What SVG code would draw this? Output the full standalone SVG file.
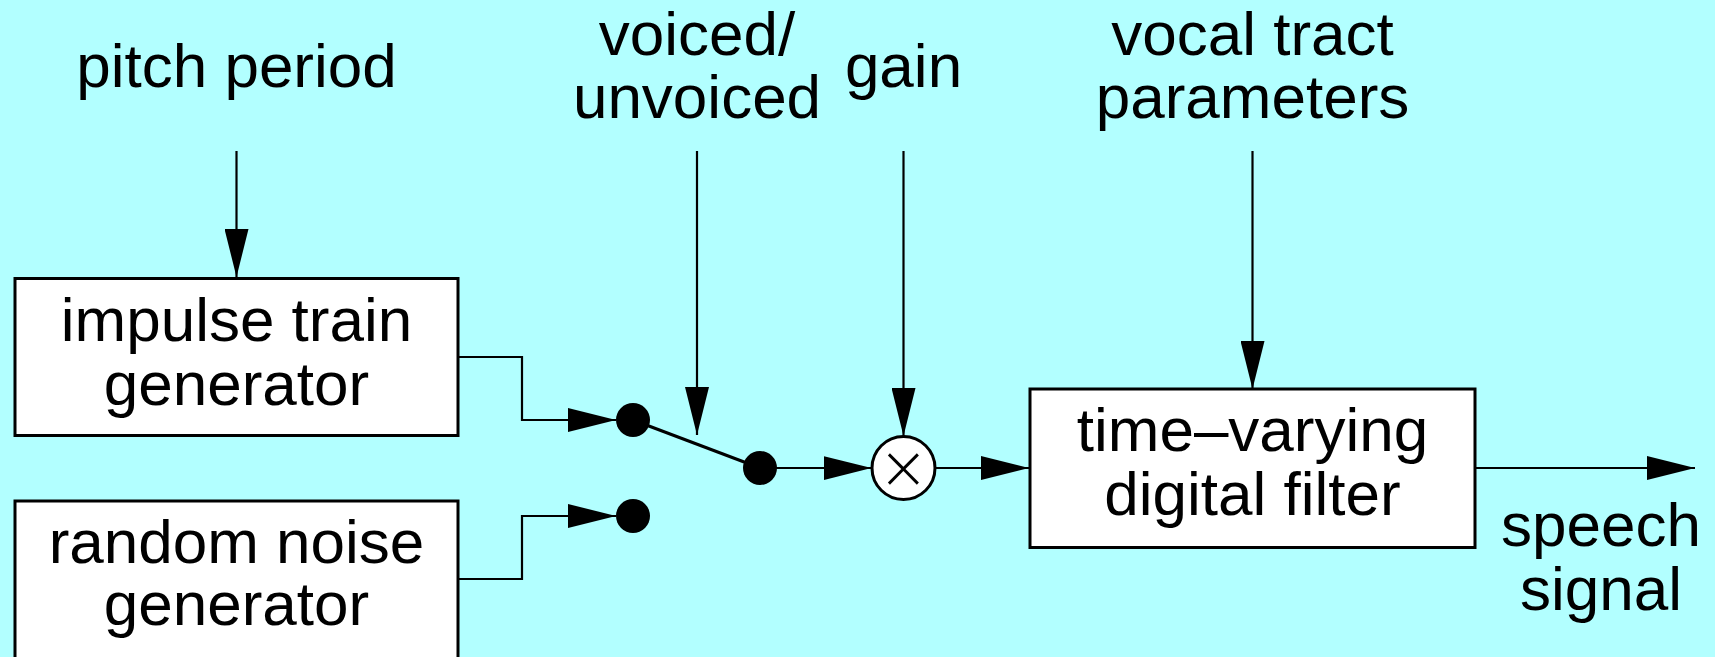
<svg xmlns="http://www.w3.org/2000/svg" width="1715" height="657" viewBox="0 0 1715 657">
<style>
.bg{fill:#b2ffff}
.box{fill:#ffffff;stroke:#000;stroke-width:3}
.t{font-family:"Liberation Sans",Arial,Helvetica,sans-serif;font-size:62px;fill:#000;text-anchor:middle}
.c{fill:none;stroke:#000;stroke-width:2.2}
.dot{fill:#000}
</style>
<defs>
<marker id="ah" markerUnits="userSpaceOnUse" markerWidth="48" markerHeight="24" refX="48" refY="12" orient="auto" viewBox="0 0 48 24">
<path d="M0,0 L48,12 L0,24 Z" fill="#000"/>
</marker>
</defs>
<rect class="bg" x="0" y="0" width="1715" height="657"/>
<g id="labels">
<text class="t" x="236.5" y="87">pitch period</text>
<text class="t" x="697" y="55">voiced/</text>
<text class="t" x="697" y="118">unvoiced</text>
<text class="t" x="903.5" y="87">gain</text>
<text class="t" x="1252.5" y="55">vocal tract</text>
<text class="t" x="1252.5" y="118">parameters</text>
<text class="t" x="1601" y="546">speech</text>
<text class="t" x="1601" y="610">signal</text>
</g>
<g id="connectors">
<line class="c" x1="236.5" y1="151" x2="236.5" y2="277" marker-end="url(#ah)"/>
<line class="c" x1="697" y1="151" x2="697" y2="435" marker-end="url(#ah)"/>
<line class="c" x1="903.5" y1="151" x2="903.5" y2="436" marker-end="url(#ah)"/>
<line class="c" x1="1252.5" y1="151" x2="1252.5" y2="389" marker-end="url(#ah)"/>
<path class="c" d="M458,357 H522 V420 H616" marker-end="url(#ah)"/>
<path class="c" d="M458,579 H522 V516 H616" marker-end="url(#ah)"/>
<line class="c" x1="633" y1="420" x2="760" y2="468" style="stroke-width:3"/>
<line class="c" x1="760" y1="468" x2="871.5" y2="468" marker-end="url(#ah)"/>
<line class="c" x1="935" y1="468" x2="1029" y2="468" marker-end="url(#ah)"/>
<line class="c" x1="1475" y1="468" x2="1695" y2="468" marker-end="url(#ah)"/>
</g>
<g id="impulse">
<rect class="box" x="15" y="278.5" width="443" height="157"/>
<text class="t" x="236.5" y="341">impulse train</text>
<text class="t" x="236.5" y="405">generator</text>
</g>
<g id="noise">
<rect class="box" x="15" y="501" width="443" height="200"/>
<text class="t" x="236.5" y="563">random noise</text>
<text class="t" x="236.5" y="625">generator</text>
</g>
<g id="switch">
<circle class="dot" cx="633" cy="420" r="17"/>
<circle class="dot" cx="633" cy="516" r="17"/>
<circle class="dot" cx="760" cy="468" r="17"/>
</g>
<g id="multiplier">
<circle cx="903.5" cy="468" r="31.5" fill="#fff" stroke="#000" stroke-width="3"/>
<text x="903.5" y="487.5" style="font-family:'DejaVu Sans',sans-serif;font-size:60px;font-weight:200;text-anchor:middle;fill:#000">×</text>
</g>
<g id="filter">
<rect class="box" x="1030" y="389" width="445" height="158.5"/>
<text class="t" x="1252.5" y="451">time–varying</text>
<text class="t" x="1252.5" y="515">digital filter</text>
</g>
</svg>
